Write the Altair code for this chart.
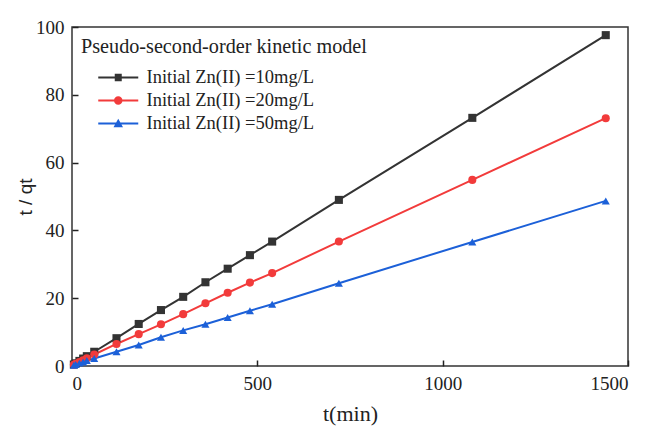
import altair as alt
import pandas as pd

t_min = [5, 10, 20, 30, 40, 60, 120, 180, 240, 300, 360, 420, 480, 540, 720, 1080, 1440]
zn10 = [0.45, 0.8, 1.5, 2.2, 2.9, 4.2, 8.2, 12.4, 16.5, 20.4, 24.7, 28.7, 32.7, 36.7, 49.0, 73.2, 97.6]
zn20 = [0.35, 0.65, 1.2, 1.7, 2.3, 3.4, 6.5, 9.4, 12.3, 15.3, 18.5, 21.6, 24.6, 27.4, 36.7, 54.9, 73.1]
zn50 = [0.25, 0.45, 0.85, 1.2, 1.6, 2.2, 4.2, 6.2, 8.5, 10.5, 12.3, 14.3, 16.3, 18.2, 24.4, 36.6, 48.7]
series = ["Initial Zn(II) =10mg/L", "Initial Zn(II) =20mg/L", "Initial Zn(II) =50mg/L"]
colors = ["#333333", "#F23B3B", "#1C60D8"]
shapes = ["square", "circle", "triangle-up"]
x_ticks = [0, 500, 1000, 1500]
y_ticks = [0, 20, 40, 60, 80, 100]

rows = []
for name, vals in zip(series, [zn10, zn20, zn50]):
    for t, v in zip(t_min, vals):
        rows.append({"t": t, "v": v, "series": name})
df = pd.DataFrame(rows)
leg_df = pd.DataFrame({"entry": series})

# legend symbols: line segment + marker (custom paths, unit = sqrt(size)/2 px)
line_part = "M1.6,-0.2H9.6V0.2H1.6Z"
leg_paths = [
    line_part + " M4.9,-0.75H6.3V0.75H4.9Z",
    line_part + " M4.75,0A0.85,0.85 0 1,1 6.45,0A0.85,0.85 0 1,1 4.75,0Z",
    line_part + " M5.6,-0.95L6.55,0.75H4.65Z",
]

SERIF = "Times New Roman, Liberation Serif, serif"
SANS = "Arial, Liberation Sans, sans-serif"
W, H = 556, 339
TICK = 6

xscale = alt.Scale(domain=[0, 1500], nice=False)
yscale = alt.Scale(domain=[0, 100], nice=False)
cscale = alt.Scale(domain=series, range=colors)

base = alt.Chart(df)

# axes sit TICK px inside the frame so their ticks point inward; the frame is the view stroke
lines = base.mark_line(strokeWidth=2).encode(
    x=alt.X("t:Q", scale=xscale, axis=alt.Axis(
        title="t(min)", values=x_ticks, grid=False, format="d", domain=False,
        ticks=True, tickSize=TICK, tickWidth=1.5, tickColor="#222", offset=-TICK,
        labelFont=SERIF, labelFontSize=19, labelColor="#222", labelPadding=8,
        titleFont=SERIF, titleFontSize=22, titleFontWeight="normal", titleColor="#222",
        titlePadding=10)),
    y=alt.Y("v:Q", scale=yscale, axis=alt.Axis(
        title="t / qt", values=y_ticks, grid=False, format="d", domain=False,
        ticks=True, tickSize=TICK, tickWidth=1.5, tickColor="#222", offset=-TICK,
        labelFont=SERIF, labelFontSize=19, labelColor="#222", labelPadding=8,
        titleFont=SANS, titleFontSize=19, titleFontWeight="normal", titleColor="#222",
        titlePadding=0)),
    color=alt.Color("series:N", scale=cscale, legend=None),
    detail="series:N",
)

points = base.mark_point(filled=True, opacity=1).encode(
    x=alt.X("t:Q", scale=xscale),
    y=alt.Y("v:Q", scale=yscale),
    color=alt.Color("series:N", scale=cscale, legend=None),
    shape=alt.Shape("series:N", scale=alt.Scale(domain=series, range=shapes), legend=None),
    size=alt.value(65),
)

leg = alt.Legend(
    title="Pseudo-second-order kinetic model",
    orient="none", legendX=9, legendY=10,
    titleFont=SERIF, titleFontSize=20.2, titleFontWeight="normal",
    titleColor="#222", titlePadding=11, titleLimit=400,
    labelFont=SERIF, labelFontSize=18.5, labelColor="#222",
    labelOffset=47, labelLimit=400,
    symbolSize=100, symbolStrokeWidth=0, symbolOpacity=1, rowPadding=4,
    padding=0)

legend_layer = alt.Chart(leg_df).mark_point(filled=True, opacity=1).encode(
    shape=alt.Shape("entry:N", scale=alt.Scale(domain=series, range=leg_paths), legend=leg),
    fill=alt.Fill("entry:N", scale=alt.Scale(domain=series, range=colors), legend=leg),
).transform_filter("false")

chart = alt.layer(lines, points, legend_layer).resolve_scale(
    shape="independent", fill="independent", color="independent"
).resolve_legend(shape="independent", fill="independent").properties(
    width=W, height=H,
    autosize=alt.AutoSizeParams(type="none"),
    padding={"left": 72, "top": 27, "right": 19, "bottom": 64},
    background="white",
).configure_view(stroke="#333", strokeWidth=1.5)

chart.save("out.html", embed_options={"renderer": "svg", "actions": False})
